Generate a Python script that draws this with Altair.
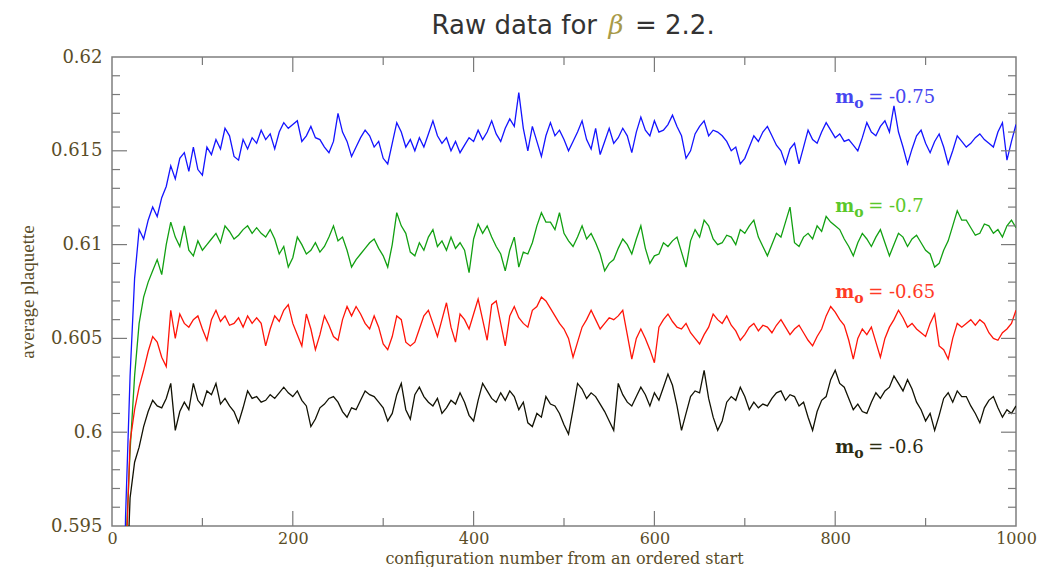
import altair as alt
import pandas as pd

# configuration numbers (every 5th configuration)
configs = list(range(0, 1001, 5))

series_names = ["-0.75", "-0.7", "-0.65", "-0.6"]
line_colors = ["#1414ff", "#12a012", "#ff1408", "#121204"]
label_colors = ["#4646f0", "#5ac82c", "#ff3a26", "#2b2b12"]
label_values = ["= -0.75", "= -0.7", "= -0.65", "= -0.6"]
label_x = [800, 800, 800, 800]
label_y = [0.61755, 0.61174, 0.60715, 0.59889]

x_labels = [0, 200, 400, 600, 800, 1000]
y_labels = [0.595, 0.6, 0.605, 0.61, 0.615, 0.62]
x_major_ticks = [200, 400, 600, 800]
x_minor_ticks = [100, 300, 500, 700, 900]
y_major_ticks = [0.6, 0.605, 0.61, 0.615]
y_minor_ticks = [0.596, 0.597, 0.598, 0.599, 0.601, 0.602, 0.603, 0.604,
                 0.606, 0.607, 0.608, 0.609, 0.611, 0.612, 0.613, 0.614,
                 0.616, 0.617, 0.618, 0.619]

m075 = [
    0.560, 0.570, 0.582, 0.5955, 0.6030, 0.6082, 0.6108, 0.6103, 0.6113, 0.6120,
    0.6115, 0.6125, 0.6131, 0.6142, 0.6135, 0.6146, 0.6149, 0.6139, 0.6152, 0.6140,
    0.6137, 0.6152, 0.6148, 0.6156, 0.6151, 0.6162, 0.6158, 0.6147, 0.6145, 0.6156,
    0.6151, 0.6157, 0.6154, 0.6161, 0.6156, 0.6159, 0.6151, 0.6160, 0.6165, 0.6162,
    0.6164, 0.6166, 0.6155, 0.6158, 0.6163, 0.6157, 0.6156, 0.6152, 0.6149, 0.6155,
    0.6170, 0.6160, 0.6155, 0.6147, 0.6152, 0.6157, 0.6161, 0.6158, 0.6152, 0.6155,
    0.6146, 0.6143, 0.6154, 0.6165, 0.6160, 0.6152, 0.6156, 0.6150, 0.6157, 0.6152,
    0.6159, 0.6166, 0.6158, 0.6154, 0.6157, 0.6150, 0.6155, 0.6149, 0.6153, 0.6157,
    0.6155, 0.6161, 0.6156, 0.6160, 0.6166, 0.6159, 0.6155, 0.6162, 0.6167, 0.6163,
    0.6181, 0.6162, 0.6150, 0.6163, 0.6155, 0.6147, 0.6158, 0.6165, 0.6158, 0.6161,
    0.6156, 0.6150, 0.6155, 0.6160, 0.6166, 0.6156, 0.6151, 0.6162, 0.6148, 0.6155,
    0.6162, 0.6154, 0.6157, 0.6162, 0.6158, 0.6149, 0.6160, 0.6168, 0.6161, 0.6158,
    0.6166, 0.6160, 0.6161, 0.6164, 0.6169, 0.6163, 0.6158, 0.6146, 0.6150, 0.6159,
    0.6163, 0.6166, 0.6158, 0.6161, 0.6160, 0.6158, 0.6155, 0.6150, 0.6152, 0.6143,
    0.6146, 0.6152, 0.6158, 0.6155, 0.6160, 0.6163, 0.6158, 0.6153, 0.6150, 0.6143,
    0.6151, 0.6154, 0.6143, 0.6152, 0.6161, 0.6156, 0.6154, 0.6160, 0.6165, 0.6161,
    0.6157, 0.6159, 0.6155, 0.6156, 0.6153, 0.6150, 0.6157, 0.6165, 0.6160, 0.6158,
    0.6163, 0.6166, 0.6160, 0.6174, 0.6160, 0.6152, 0.6143, 0.6151, 0.6158, 0.6161,
    0.6154, 0.6149, 0.6155, 0.6159, 0.6152, 0.6143, 0.6150, 0.6158, 0.6155, 0.6152,
    0.6154, 0.6157, 0.6159, 0.6156, 0.6154, 0.6152, 0.6160, 0.6165, 0.6145, 0.6155,
    0.6164,
]

m070 = [
    0.560, 0.570, 0.583, 0.5935, 0.5990, 0.6030, 0.6058, 0.6072, 0.6080, 0.6086,
    0.6092, 0.6084, 0.6100, 0.6112, 0.6104, 0.6099, 0.6110, 0.6097, 0.6094, 0.6102,
    0.6097, 0.6100, 0.6103, 0.6106, 0.6101, 0.6110, 0.6107, 0.6103, 0.6105, 0.6108,
    0.6110, 0.6106, 0.6109, 0.6106, 0.6104, 0.6108, 0.6103, 0.6095, 0.6099, 0.6088,
    0.6093, 0.6104, 0.6100, 0.6095, 0.6097, 0.6101, 0.6096, 0.6099, 0.6104, 0.6110,
    0.6102, 0.6104, 0.6097, 0.6088, 0.6092, 0.6095, 0.6098, 0.6101, 0.6103, 0.6098,
    0.6094, 0.6088, 0.6100, 0.6117, 0.6110, 0.6106, 0.6096, 0.6094, 0.6101, 0.6097,
    0.6104, 0.6108, 0.6099, 0.6102, 0.6097, 0.6104, 0.6098, 0.6101, 0.6097, 0.6085,
    0.6103, 0.6111, 0.6106, 0.6110, 0.6104, 0.6099, 0.6095, 0.6086, 0.6097, 0.6104,
    0.6088, 0.6096, 0.6095, 0.6101, 0.6110, 0.6117, 0.6112, 0.6112, 0.6108, 0.6117,
    0.6106, 0.6102, 0.6099, 0.6104, 0.6110, 0.6103, 0.6106, 0.6101, 0.6095, 0.6086,
    0.6090, 0.6092, 0.6098, 0.6103, 0.6100, 0.6095, 0.6103, 0.6110, 0.6098, 0.6090,
    0.6094, 0.6095, 0.6101, 0.6099, 0.6102, 0.6104, 0.6096, 0.6088, 0.6102, 0.6108,
    0.6104, 0.6113, 0.6110, 0.6103, 0.6100, 0.6101, 0.6105, 0.6104, 0.6100, 0.6108,
    0.6106, 0.6110, 0.6113, 0.6104, 0.6099, 0.6094, 0.6100, 0.6106, 0.6104, 0.6112,
    0.6120, 0.6101, 0.6099, 0.6104, 0.6106, 0.6103, 0.6110, 0.6107, 0.6115, 0.6112,
    0.6110, 0.6108, 0.6103, 0.6099, 0.6094, 0.6101, 0.6106, 0.6103, 0.6099, 0.6104,
    0.6108, 0.6101, 0.6094, 0.6100, 0.6106, 0.6104, 0.6099, 0.6103, 0.6105, 0.6101,
    0.6097, 0.6095, 0.6088, 0.6090, 0.6097, 0.6102, 0.6110, 0.6118, 0.6113, 0.6113,
    0.6109, 0.6105, 0.6106, 0.6111, 0.6110, 0.6106, 0.6108, 0.6104, 0.6110, 0.6113,
    0.6109,
]

m065 = [
    0.560, 0.570, 0.580, 0.5925, 0.5995, 0.6012, 0.6024, 0.6033, 0.6043, 0.6051,
    0.6048, 0.6040, 0.6035, 0.6065, 0.6050, 0.6063, 0.6058, 0.6056, 0.6060, 0.6062,
    0.6055, 0.6049, 0.6060, 0.6065, 0.6059, 0.6062, 0.6057, 0.6058, 0.6061, 0.6056,
    0.6062, 0.6058, 0.6061, 0.6058, 0.6046, 0.6055, 0.6062, 0.6059, 0.6065, 0.6068,
    0.6058, 0.6052, 0.6046, 0.6063, 0.6055, 0.6044, 0.6052, 0.6062, 0.6057, 0.6051,
    0.6049, 0.6060, 0.6067, 0.6062, 0.6067, 0.6063, 0.6058, 0.6055, 0.6062, 0.6056,
    0.6047, 0.6044, 0.6051, 0.6062, 0.6060, 0.6048, 0.6046, 0.6048, 0.6055, 0.6062,
    0.6065, 0.6058, 0.6051, 0.6060, 0.6069, 0.6056, 0.6048, 0.6063, 0.6060, 0.6055,
    0.6063, 0.6071, 0.6060, 0.6049, 0.6068, 0.6070, 0.6058, 0.6046, 0.6062, 0.6067,
    0.6061, 0.6058, 0.6056, 0.6065, 0.6067, 0.6072, 0.6070, 0.6066, 0.6062, 0.6058,
    0.6055, 0.6050, 0.6040, 0.6048, 0.6056, 0.6060, 0.6065, 0.6060, 0.6055, 0.6058,
    0.6061, 0.6060, 0.6062, 0.6065, 0.6052, 0.6039, 0.6050, 0.6055, 0.6050, 0.6044,
    0.6037, 0.6056, 0.6060, 0.6063, 0.6059, 0.6056, 0.6055, 0.6058, 0.6053, 0.6050,
    0.6047, 0.6052, 0.6056, 0.6063, 0.6060, 0.6058, 0.6062, 0.6057, 0.6054, 0.6049,
    0.6052, 0.6056, 0.6058, 0.6054, 0.6057, 0.6056, 0.6053, 0.6057, 0.6060, 0.6056,
    0.6052, 0.6055, 0.6057, 0.6053, 0.6049, 0.6046, 0.6051, 0.6055, 0.6062, 0.6067,
    0.6064, 0.6060, 0.6057, 0.6049, 0.6039, 0.6050, 0.6055, 0.6052, 0.6056, 0.6048,
    0.6040, 0.6050, 0.6056, 0.6060, 0.6065, 0.6061, 0.6056, 0.6058, 0.6055, 0.6053,
    0.6051, 0.6058, 0.6063, 0.6046, 0.6044, 0.6039, 0.6050, 0.6058, 0.6056, 0.6058,
    0.6060, 0.6057, 0.6060, 0.6058, 0.6053, 0.6050, 0.6049, 0.6053, 0.6055, 0.6058,
    0.6065,
]

m060 = [
    0.560, 0.570, 0.578, 0.5900, 0.5965, 0.5984, 0.5992, 0.6003, 0.6011, 0.6017,
    0.6014, 0.6013, 0.6018, 0.6026, 0.6001, 0.6011, 0.6016, 0.6012, 0.6026, 0.6017,
    0.6014, 0.6022, 0.6020, 0.6026, 0.6015, 0.6018, 0.6014, 0.6011, 0.6005, 0.6013,
    0.6022, 0.6018, 0.6019, 0.6016, 0.6017, 0.6020, 0.6018, 0.6021, 0.6024, 0.6021,
    0.6019, 0.6022, 0.6017, 0.6014, 0.6003, 0.6007, 0.6013, 0.6015, 0.6018, 0.6019,
    0.6016, 0.6011, 0.6008, 0.6013, 0.6012, 0.6017, 0.6022, 0.6020, 0.6019, 0.6016,
    0.6013, 0.6006, 0.6010, 0.6020, 0.6026, 0.6012, 0.6007, 0.6020, 0.6024, 0.6019,
    0.6016, 0.6014, 0.6018, 0.6010, 0.6013, 0.6017, 0.6015, 0.6021, 0.6016, 0.6009,
    0.6006, 0.6017, 0.6026, 0.6022, 0.6018, 0.6016, 0.6021, 0.6017, 0.6022, 0.6019,
    0.6012, 0.6016, 0.6005, 0.6003, 0.6010, 0.6008, 0.6019, 0.6015, 0.6014, 0.6010,
    0.6004, 0.5999, 0.6012, 0.6026, 0.6023, 0.6018, 0.6021, 0.6019, 0.6015, 0.6011,
    0.6006, 0.6001, 0.6026, 0.6020, 0.6016, 0.6014, 0.6019, 0.6024, 0.6020, 0.6014,
    0.6021, 0.6017, 0.6024, 0.6031, 0.6025, 0.6014, 0.6001, 0.6010, 0.6019, 0.6022,
    0.6021, 0.6033, 0.6018, 0.6008, 0.6001, 0.6006, 0.6016, 0.6019, 0.6017, 0.6024,
    0.6019, 0.6012, 0.6016, 0.6013, 0.6015, 0.6014, 0.6018, 0.6021, 0.6022, 0.6017,
    0.6020, 0.6019, 0.6014, 0.6016, 0.6008, 0.6001, 0.6011, 0.6017, 0.6019, 0.6028,
    0.6033, 0.6026, 0.6024, 0.6018, 0.6012, 0.6015, 0.6011, 0.6010, 0.6016, 0.6021,
    0.6018, 0.6022, 0.6024, 0.6030, 0.6026, 0.6022, 0.6028, 0.6023, 0.6016, 0.6012,
    0.6006, 0.6010, 0.6001, 0.6009, 0.6018, 0.6021, 0.6016, 0.6022, 0.6019, 0.6019,
    0.6014, 0.6010, 0.6005, 0.6013, 0.6017, 0.6019, 0.6013, 0.6008, 0.6012, 0.6010,
    0.6014,
]

series_values = [m075, m070, m065, m060]
for vals in series_values:
    assert len(vals) == len(configs), len(vals)

rows = []
for name, vals in zip(series_names, series_values):
    for c, v in zip(configs, vals):
        rows.append({"config": c, "plaq": v, "series": name})
df = pd.DataFrame(rows)

labels_df = pd.DataFrame({"config": label_x, "plaq": label_y,
                          "m": ["m"] * 4, "o": ["o"] * 4,
                          "val": label_values, "lc": label_colors})

W, H = 904, 469
LEFT, TOP = 104, 49
axis_color = "#5a4d28"
tick_color = "#7a7a7a"
MAJ, MIN = 15, 8

xscale = alt.Scale(domain=[0, 1000], nice=False, zero=False)
yscale = alt.Scale(domain=[0.595, 0.62], nice=False, zero=False)

lines = alt.Chart(df).mark_line(strokeWidth=1.3, clip=True).encode(
    x=alt.X("config:Q", scale=xscale,
            axis=alt.Axis(values=x_labels, format="d",
                          title="configuration number from an ordered start",
                          ticks=False, domain=False, grid=False, labelFlush=False,
                          labelOverlap=False, labelFont="DejaVu Serif", labelFontSize=16,
                          labelColor=axis_color, labelPadding=4,
                          titleFont="DejaVu Serif", titleFontSize=16, titleFontWeight="normal",
                          titleColor=axis_color, titlePadding=4)),
    y=alt.Y("plaq:Q", scale=yscale,
            axis=alt.Axis(values=y_labels, format=".3~f", title="average plaquette",
                          ticks=False, domain=False, grid=False, labelFlush=False,
                          labelOverlap=False, labelFont="DejaVu Serif", labelFontSize=18,
                          labelColor=axis_color, labelPadding=10,
                          titleFont="Liberation Serif", titleFontSize=19, titleFontWeight="normal",
                          titleColor=axis_color, titlePadding=13)),
    color=alt.Color("series:N", scale=alt.Scale(domain=series_names, range=line_colors),
                    legend=None),
)


def xticks(vals, length, top):
    d = pd.DataFrame({"config": vals})
    if top:
        yy, yy2 = alt.value(0), alt.value(length)
    else:
        yy, yy2 = alt.value(H), alt.value(H - length)
    return alt.Chart(d).mark_rule(color=tick_color, strokeWidth=1.2).encode(
        x=alt.X("config:Q", scale=xscale), y=yy, y2=yy2)


def yticks(vals, length, right):
    d = pd.DataFrame({"plaq": vals})
    if right:
        xx, xx2 = alt.value(W), alt.value(W - length)
    else:
        xx, xx2 = alt.value(0), alt.value(length)
    return alt.Chart(d).mark_rule(color=tick_color, strokeWidth=1.2).encode(
        y=alt.Y("plaq:Q", scale=yscale), x=xx, x2=xx2)


tick_layers = [
    xticks(x_major_ticks, MAJ, False), xticks(x_minor_ticks, MIN, False),
    xticks(x_major_ticks, MAJ, True), xticks(x_minor_ticks, MIN, True),
    yticks(y_major_ticks, MAJ, False), yticks(y_minor_ticks, MIN, False),
    yticks(y_major_ticks, MAJ, True), yticks(y_minor_ticks, MIN, True),
]

label_base = alt.Chart(labels_df).encode(
    x=alt.X("config:Q", scale=xscale),
    y=alt.Y("plaq:Q", scale=yscale),
    color=alt.Color("lc:N", scale=None),
)
lab_m = label_base.mark_text(align="left", baseline="alphabetic", font="DejaVu Serif",
                             fontSize=18, fontWeight="bold").encode(text="m:N")
lab_o = label_base.mark_text(align="left", baseline="alphabetic", font="DejaVu Serif",
                             fontSize=14, fontWeight="bold", dx=19, dy=5).encode(text="o:N")
lab_v = label_base.mark_text(align="left", baseline="alphabetic", font="DejaVu Serif",
                             fontSize=18, dx=33).encode(text="val:N")

TITLE_Y = 34 - 57
t1 = alt.Chart(pd.DataFrame({"t": ["Raw data for"]})).mark_text(
    align="right", baseline="alphabetic", font="DejaVu Sans", fontSize=26, color="#333333"
).encode(x=alt.value(597 - 112), y=alt.value(TITLE_Y), text="t:N")
t2 = alt.Chart(pd.DataFrame({"t": ["β"]})).mark_text(
    align="center", baseline="alphabetic", font="DejaVu Serif", fontStyle="italic",
    fontSize=26, color="#a89a48"
).encode(x=alt.value(616 - 112), y=alt.value(TITLE_Y), text="t:N")
t3 = alt.Chart(pd.DataFrame({"t": ["= 2.2."]})).mark_text(
    align="left", baseline="alphabetic", font="DejaVu Sans", fontSize=26, color="#333333"
).encode(x=alt.value(635 - 112), y=alt.value(TITLE_Y), text="t:N")

chart = alt.layer(lines, *tick_layers, lab_m, lab_o, lab_v, t1, t2, t3).resolve_scale(
    color="independent"
).properties(
    width=W, height=H,
    padding={"left": LEFT, "top": TOP, "right": 21, "bottom": 41},
    autosize=alt.AutoSizeParams(type="none"),
    background="white",
).configure_view(stroke="#7f7f7f", strokeWidth=1.5)

chart.save("out.html", embed_options={"renderer": "svg", "actions": False})
